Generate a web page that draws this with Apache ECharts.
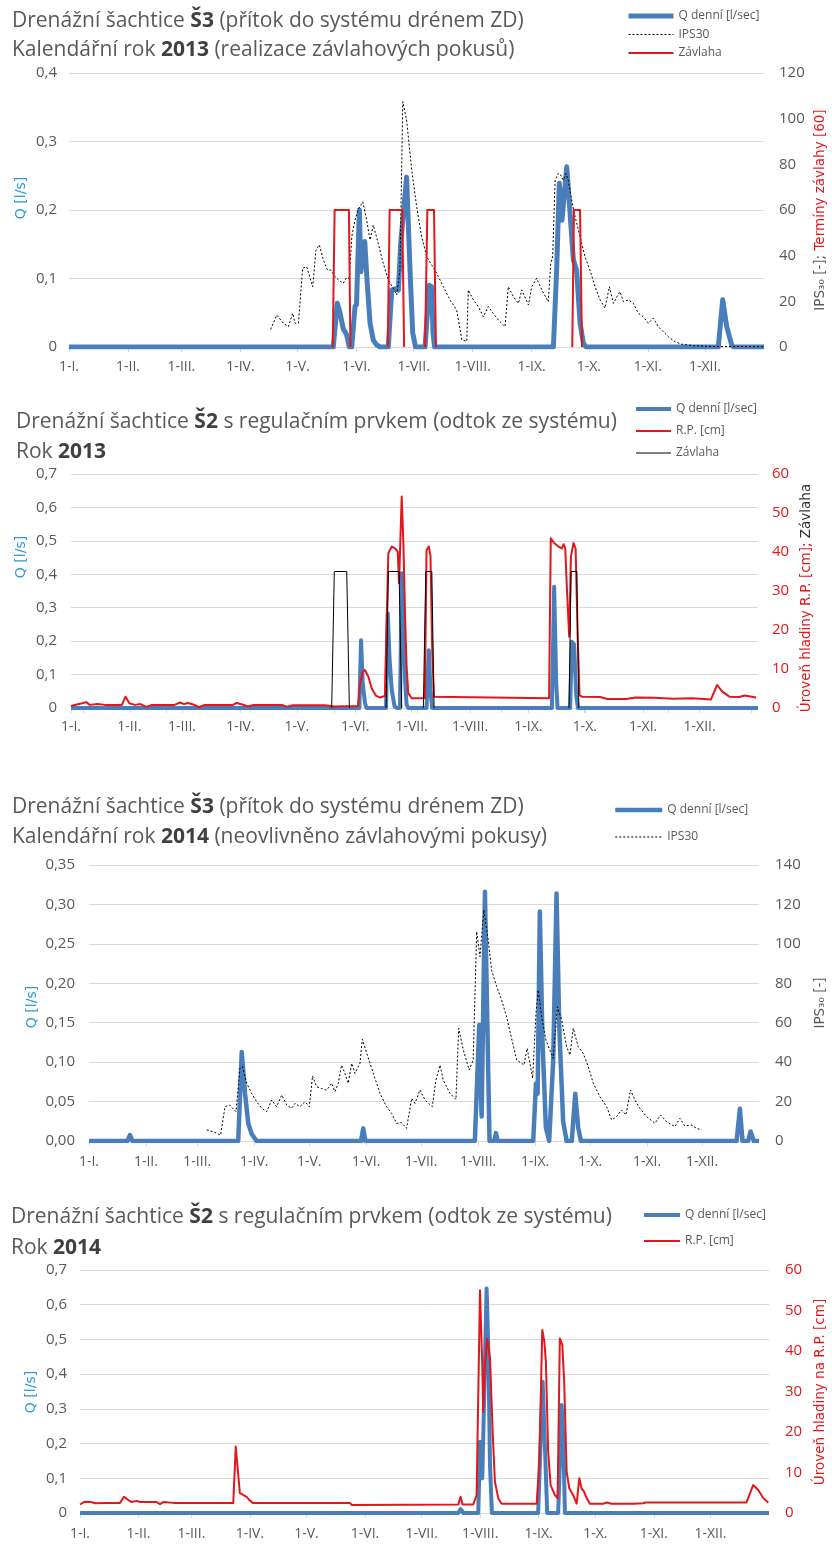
<!DOCTYPE html>
<html>
<head>
<meta charset="utf-8">
<script src="https://cdn.jsdelivr.net/npm/echarts/dist/echarts.min.js"></script>
<style>
  html, body { margin: 0; padding: 0; background: #fff; }
  #chart { width: 832px; height: 1546px; }
</style>
</head>
<body>
<div id="chart"></div>
<script>
// osa x: den v roce (0 = 1. ledna)
const monthStarts = [0, 31, 59, 90, 120, 151, 181, 212, 243, 273, 304, 334];
const monthLabels = ['1-I.', '1-II.', '1-III.', '1-IV.', '1-V.', '1-VI.', '1-VII.', '1-VIII.', '1-IX.', '1-X.', '1-XI.', '1-XII.'];
const s2Ticks2013 = [6.4, 50.8, 95.2, 139.6, 184, 228.4, 272.8, 317.2, 361.6];

// --- 2013, S3 ---
const q13s3 = [[0,0],[138.8,0],[140.9,0.064],[142.3,0.05],[144,0.027],[145.8,0.018],[147.2,0],[148.5,0],[150.2,0.059],[151,0.062],[152.5,0.2],[153.3,0.11],[154.3,0.135],[155.3,0.154],[156.7,0.09],[158.1,0.035],[159.8,0.01],[161.6,0.003],[163.4,0],[167.7,0],[169.5,0.083],[171.2,0.085],[173,0.083],[174.2,0.151],[177.3,0.248],[179.1,0.112],[180.5,0.021],[182,0],[187,0],[189.2,0.09],[190.4,0.088],[191.2,0.02],[192,0],[254.4,0],[256.1,0.112],[257.5,0.239],[258.9,0.185],[261.4,0.263],[262.8,0.21],[264,0.161],[264.9,0.127],[266.6,0.112],[268.4,0.035],[270.1,0.006],[271.5,0],[341,0],[343.3,0.069],[345.4,0.03],[348,0.003],[349,0],[365,0]];
const ips13 = [[105.9,7.7],[109.1,14],[112.6,10.4],[115.2,8.9],[117.5,14.8],[118.7,10.4],[120.5,10.4],[122.7,34.5],[124.8,35.2],[128,26.4],[129.7,42.5],[131.5,44.7],[133.6,38.1],[135.7,33.7],[137.5,33.7],[139.7,30.8],[141.5,29.4],[144,27.9],[145.8,30.4],[147.2,30],[148.5,48.3],[150.2,55.6],[152,60.4],[154.3,63.6],[156.3,55.6],[158.1,46.9],[159.8,53.4],[162.4,45.4],[165,36.7],[167.7,29.4],[170.3,25.7],[172.1,22.8],[173.8,33.7],[175.3,107.4],[177.3,99.4],[180,77.5],[182.6,61.4],[185.2,48.3],[187.9,39.5],[190.5,35.9],[193.1,32.3],[196.6,26.4],[200.1,20.6],[203.6,16.2],[206.3,3.1],[208.9,2.5],[209.7,25],[212.4,20.6],[215,17.7],[217.6,13.2],[220.2,17.7],[222.8,14.7],[225.5,11.8],[226.4,12.6],[229,8.9],[230.7,26.4],[233.4,22],[236,19.1],[237.8,25],[241.3,18.4],[243,26.4],[245.6,30.1],[248.3,25],[251.7,19.8],[253,36.7],[254,39.5],[255.3,73.1],[257,76.1],[258.2,75.4],[259.6,73.1],[261,76],[262.2,73],[264,64.4],[265.8,57],[268.4,48.3],[271,39.5],[273.6,33.7],[276.3,26.4],[278.9,20.6],[281.5,17],[283.8,26.4],[285.9,19.1],[287.7,22],[289.4,24.2],[291.2,19.8],[293.8,20.6],[296.4,19.1],[299,14.8],[301.6,13.2],[304.3,10.4],[306.9,12.6],[309.5,8.9],[312.1,6.7],[314.8,4.5],[318.3,2.3],[321.8,1.2],[327.9,0.6],[338.4,0.2],[348.9,0.2],[364.6,0.1]];
// zavlahy: kazda davka zvlast (mezi nimi mezera)
const zav13s3 = [
  [[138.5,0],[139.5,60],[147,60],[147.8,0]],
  [[167.4,0],[168.4,60],[175,60],[176,0]],
  [[187,0],[188.2,60],[191.7,60],[192.7,0]],
  [[264.3,0],[265.2,60],[268.4,60],[269.4,0]]
];

// --- 2013, S2 ---
const q13s2 = [[0,0],[153.2,0],[154.1,0.203],[155,0.074],[156.2,0.015],[157,0],[167.4,0],[168.3,0.283],[169.2,0.153],[170.4,0.054],[171.9,0.005],[173.1,0],[174.8,0],[175.7,0.403],[176.6,0.273],[177.5,0.084],[178.3,0.01],[179.2,0],[188.9,0],[190.1,0.173],[191,0.05],[191.9,0],[255.5,0],[256.7,0.363],[257.8,0.074],[258.5,0],[265.2,0],[266.1,0.198],[267.3,0.19],[268.4,0.04],[269.3,0],[365,0]];
const rp13 = [[0,0.5],[3,0.9],[6,1.2],[8,1.5],[10,0.8],[14,1],[18,0.8],[27,0.8],[29,2.9],[31,1.2],[34,0.8],[37,1],[40,0.3],[43,0.8],[55,0.8],[58,1.4],[60,1],[62,1.3],[65,0.9],[68,0.2],[71,0.8],[86,0.8],[88,1.3],[91,0.9],[94,0.4],[97,0.8],[112,0.8],[115,0.3],[118,0.7],[135,0.7],[140,0.4],[152.5,0.5],[153.6,6.3],[155,9.3],[156.2,9.7],[158,8],[159.8,5],[162.1,3.1],[164.2,2.7],[166.8,3.1],[167.6,20],[168.6,39.7],[170.4,41.4],[172.2,40.9],[173.6,40.1],[174.3,32],[175.7,54.2],[176.6,42.2],[177.5,23.4],[178.3,10.6],[179.2,3.8],[181,2.5],[188,2.5],[188.9,40.5],[190.1,41.4],[191,39],[191.9,14.9],[192.8,2.9],[203,2.8],[203.5,2.5],[254,2.5],[254.9,43.5],[256.7,42.3],[259,41.4],[260.8,40.9],[261.7,42],[262.6,40.9],[263.5,30.3],[264.7,18.3],[265.6,38.8],[267,42.3],[268.1,40.9],[269.2,18.3],[270.2,3.3],[271.4,2.9],[281,2.8],[285,2.3],[295,2.3],[300,2.7],[310,2.6],[320,2.4],[330,2.5],[340,2.2],[343.3,5.9],[346,4.2],[349.8,2.9],[355,2.8],[358,3.2],[364,2.7]];
const zav13s2 = [
  [[138.5,0],[139.9,35],[146.5,35],[147.9,0]],
  [[167.4,0],[168.6,35],[174.3,35],[175.7,0]],
  [[187.2,0],[188.5,35],[191.7,35],[192.9,0]],
  [[264.6,0],[265.7,35],[268.7,35],[269.8,0]]
];

// --- 2014, S3 ---
const q14s3 = [[0,0],[21,0],[22.3,0.0076],[23.6,0],[81.3,0],[83.2,0.113],[85,0.06],[86.8,0.022],[88.6,0.009],[91.3,0],[148.2,0],[149.4,0.016],[150.6,0],[210.2,0],[212.6,0.147],[213.9,0.031],[214.4,0.03],[215.7,0.316],[217,0.15],[218.2,0],[220.8,0],[221.7,0.01],[222.6,0],[242,0],[243.5,0.073],[244.4,0.06],[245.6,0.291],[247.1,0.124],[248.9,0.017],[250.7,0],[252.9,0.103],[254.7,0.314],[256.2,0.144],[258.3,0.025],[260.2,0],[263,0],[264.9,0.06],[266.5,0.017],[268,0],[352.8,0],[354.6,0.041],[356,0],[359.1,0],[360.4,0.012],[362.2,0],[365,0]];
const ips14 = [[64.1,5.6],[67.7,4.7],[71.7,3],[74.1,17.4],[76.5,18.3],[78.3,16.6],[80.1,14.9],[82.2,36.9],[83.7,37.7],[85.9,29.3],[88.6,24.2],[91.3,19.9],[94.1,16.6],[96.8,14.9],[99.5,20.8],[102.2,17.4],[105,23.3],[107.7,18.3],[110.4,16.6],[112.2,19.1],[114.9,17.4],[117.6,19.9],[120,17.4],[121.8,33],[124,27.5],[126.7,26.6],[129.5,25.8],[132.2,29.3],[134,25],[135.8,29.3],[137.6,38.5],[139.4,34.3],[141.2,29.3],[143.1,39.4],[144.9,34.3],[147.6,39.4],[148.9,51.6],[151.3,44.5],[154.9,34.3],[158.5,24.2],[162.1,17.4],[164.9,14],[167.6,8.9],[170.3,9.3],[173,6.4],[175.8,21.7],[177.6,19.1],[180.3,25.9],[183,20.8],[187,17.4],[189,30.9],[191.2,38.5],[193,30.9],[196.6,24.2],[199.9,21.1],[201.4,57.2],[203.9,46.2],[207.1,36],[209.3,41.1],[211.2,106.2],[213,93.5],[215.1,117.2],[217.5,102],[219.3,86.7],[222.1,78.3],[224.8,71.5],[227.5,63],[230.2,52.1],[233,41.1],[235.7,39.4],[236.9,38.5],[238.7,47],[240.2,39.4],[241.7,31.8],[243.5,64.8],[244.7,76.6],[246.6,63],[248.9,51.2],[252.9,41.9],[255.1,68.1],[257.5,61.4],[260.2,47.8],[262,43.6],[263.8,57.2],[266.5,47.8],[269.2,44.5],[272,37.7],[274.7,29.3],[278.3,22.5],[282,17.4],[284.7,10.7],[287.4,12.3],[290.1,15.7],[292.5,13.2],[295,25.9],[297.4,20.8],[300.1,16.6],[303.8,12.3],[308.3,9],[311.4,13.2],[314.7,9.8],[319.2,7.3],[321.9,11.5],[324.6,7.6],[328.3,8.1],[331,6.4],[333.7,5.6]];

// --- 2014, S2 ---
const q14s2 = [[0,0],[200.4,0],[201.6,0.0115],[203.1,0],[211,0],[211.9,0.205],[213.1,0.1],[214.1,0.33],[215.4,0.647],[216.3,0.474],[217.2,0.138],[218.2,0],[242.7,0],[244,0.205],[245.1,0.378],[246.3,0.19],[247.5,0],[253.3,0],[254.2,0.138],[255.1,0.311],[256,0.22],[256.9,0],[365,0]];
const rp14 = [[0,2.1],[2.6,2.8],[5.6,2.7],[8.3,2.4],[14.1,2.5],[21.2,2.5],[23.3,4],[25.6,3.2],[27.4,2.7],[30,3],[31.8,2.7],[40.6,2.7],[42.4,2.2],[44.1,2.7],[49.5,2.5],[81.2,2.5],[82.5,16.4],[84.7,4.9],[88.3,4],[89.7,3.2],[91.5,2.5],[143,2.5],[143.9,2],[200.4,2.1],[201.6,4],[202.7,2.1],[208.3,2.1],[210.1,4.4],[211.9,55],[213.1,36.5],[213.6,25],[214.5,36.5],[215.7,43.1],[217.2,38.2],[218.6,20.1],[219.8,7.7],[221.6,3.6],[223.4,2.3],[241.9,2.3],[243.3,11.9],[244.9,45.2],[246,42.3],[246.8,37.4],[248,15.1],[249.3,6.9],[251.6,4.4],[253,3.7],[254.2,43.1],[255.5,41.5],[256.5,32.4],[257.8,10.2],[259.2,6.1],[261.3,4.4],[263.1,2.3],[264.5,8.6],[265.7,6.1],[267,5.3],[268.4,3.7],[270.1,2.3],[277.2,2.3],[279,2.6],[281.6,2.3],[290.4,2.3],[291.3,2.6],[293.1,2.3],[298.4,2.4],[299.5,2.6],[353.1,2.6],[356.6,6.9],[359.3,5.7],[361.9,3.7],[364.6,2.6]];

const FONT = '"Open Sans", "DejaVu Sans", sans-serif';
const NAME_FONT = '"DejaVu Sans", sans-serif';
const GREY = '#595959';
const GRID_LINE = '#d9d9d9';
const BLUE = '#4a7ebb';
const RED = '#e3161b';
const Q_BLUE = '#2e9bd6';

// davky zavlahy spojit s prazdnym bodem mezi nimi, aby se nekreslila nula
function withGaps(groups) {
  const out = [];
  groups.forEach((g, i) => {
    if (i > 0) out.push('-');
    g.forEach(p => out.push(p));
  });
  return out;
}

const grids = [
  { left: 69, top: 73, width: 695, height: 274 },
  { left: 71, top: 474, width: 687, height: 234 },
  { left: 89, top: 865, width: 670, height: 276 },
  { left: 80, top: 1270, width: 689, height: 243 }
];

function xAxis(gi, margin) {
  return {
    type: 'value', gridIndex: gi, min: 0, max: 365,
    axisLine: { show: true, lineStyle: { color: GRID_LINE } },
    axisTick: { show: true, customValues: monthStarts, length: 5, lineStyle: { color: GRID_LINE } },
    axisLabel: {
      customValues: monthStarts,
      formatter: v => monthLabels[monthStarts.indexOf(v)] || '',
      color: GREY, fontSize: 14, fontFamily: FONT, margin: margin
    },
    splitLine: { show: false }
  };
}

function qFmt(dec) {
  return v => {
    if (dec === 2) return v.toFixed(2).replace('.', ',');
    if (Math.abs(v) < 1e-9) return '0';
    return v.toFixed(1).replace('.', ',');
  };
}

function yLeft(gi, max, interval, dec, margin) {
  return {
    type: 'value', gridIndex: gi, position: 'left', min: 0, max: max, interval: interval,
    axisLine: { show: false }, axisTick: { show: false },
    splitLine: { show: true, lineStyle: { color: GRID_LINE } },
    axisLabel: { formatter: qFmt(dec), color: GREY, fontSize: 15, fontFamily: FONT, margin: margin }
  };
}

function yRight(gi, max, interval, color, margin) {
  return {
    type: 'value', gridIndex: gi, position: 'right', min: 0, max: max, interval: interval,
    axisLine: { show: false }, axisTick: { show: false }, splitLine: { show: false },
    axisLabel: { color: color, fontSize: 15, fontFamily: FONT, margin: margin }
  };
}

function line(name, xi, yi, data, color, width, extra) {
  return Object.assign({
    name: name, type: 'line', xAxisIndex: xi, yAxisIndex: yi, data: data,
    symbol: 'none', connectNulls: false, silent: true,
    lineStyle: { color: color, width: width, join: 'round' },
    itemStyle: { color: color }
  }, extra || {});
}

// legenda: jen cara bez znacky, tloustka podle serie
function legend(left, top, gap, iw, names) {
  return {
    left: left, top: top, orient: 'vertical', padding: 0,
    itemWidth: iw, itemHeight: 14, itemGap: gap, selectedMode: false,
    itemStyle: { opacity: 0, borderWidth: 0 },
    lineStyle: { width: 'inherit' },
    data: names,
    textStyle: { color: GREY, fontSize: 12, fontFamily: FONT }
  };
}

function titleText(x, y, parts) {
  return {
    type: 'text', x: x, y: y,
    style: {
      text: parts, verticalAlign: 'middle',
      rich: {
        n: { fontSize: 21, fontFamily: FONT, fill: GREY },
        b: { fontSize: 21, fontFamily: FONT, fill: '#404040', fontWeight: 'bold' }
      }
    }
  };
}

function axisName(x, y, text, rich) {
  return {
    type: 'text', x: x, y: y, rotation: Math.PI / 2,
    style: { text: text, align: 'center', verticalAlign: 'middle', rich: rich }
  };
}

const nameRich = {
  q: { fontSize: 14, fontFamily: NAME_FONT, fill: Q_BLUE },
  g: { fontSize: 13.5, fontFamily: NAME_FONT, fill: GREY },
  r: { fontSize: 13.5, fontFamily: NAME_FONT, fill: RED },
  k: { fontSize: 13.5, fontFamily: NAME_FONT, fill: '#333' }
};

const chart = echarts.init(document.getElementById('chart'));
chart.setOption({
  animation: false,
  backgroundColor: '#fff',
  grid: grids,
  xAxis: [
    xAxis(0, 13), xAxis(1, 12), xAxis(2, 14), xAxis(3, 14),
    {
      type: 'value', gridIndex: 1, min: 0, max: 365, position: 'bottom', offset: 37,
      axisLine: { show: false },
      axisTick: { show: true, customValues: s2Ticks2013, length: 5, lineStyle: { color: GRID_LINE } },
      axisLabel: { show: false }, splitLine: { show: false }
    }
  ],
  yAxis: [
    yLeft(0, 0.4, 0.1, 1, 12), yRight(0, 120, 20, GREY, 15),
    yLeft(1, 0.7, 0.1, 1, 14), yRight(1, 60, 10, RED, 14),
    yLeft(2, 0.35, 0.05, 2, 14), yRight(2, 140, 20, GREY, 16),
    yLeft(3, 0.7, 0.1, 1, 13), yRight(3, 60, 10, RED, 16)
  ],
  legend: [
    legend(626, 10, 6.5, 45, ['Q denní [l/sec]', 'IPS30', 'Závlaha']),
    legend(634, 403, 10, 35, ['Q denní [l/sec] ', 'R.P. [cm]', 'Závlaha ']),
    legend(613, 804, 15, 47, ['Q denní [l/sec]  ', 'IPS30 ']),
    legend(642, 1209, 14, 36, ['Q denní [l/sec]   ', 'R.P. [cm] '])
  ],
  series: [
    line('Q denní [l/sec]', 0, 0, q13s3, BLUE, 5, { z: 2 }),
    line('IPS30', 0, 1, ips13, '#000', 1, { z: 3, lineStyle: { color: '#000', width: 1, type: [2, 2] } }),
    line('Závlaha', 0, 1, withGaps(zav13s3), RED, 2, { z: 4 }),

    line('Q denní [l/sec] ', 1, 2, q13s2, BLUE, 4, { z: 2 }),
    line('R.P. [cm]', 1, 3, rp13, RED, 2, { z: 3 }),
    line('Závlaha ', 1, 3, withGaps(zav13s2), '#000', 1, { z: 4 }),

    line('Q denní [l/sec]  ', 2, 4, q14s3, BLUE, 4.5, { z: 2 }),
    line('IPS30 ', 2, 5, ips14, '#000', 1, { z: 3, lineStyle: { color: '#000', width: 1, type: [2, 2] } }),

    line('Q denní [l/sec]   ', 3, 6, q14s2, BLUE, 4, { z: 2 }),
    line('R.P. [cm] ', 3, 7, rp14, RED, 2, { z: 3 })
  ],
  graphic: [
    titleText(12, 21, '{n|Drenážní šachtice }{b|Š3}{n| (přítok do systému drénem ZD)}'),
    titleText(12, 50, '{n|Kalendářní rok }{b|2013}{n| (realizace závlahových pokusů)}'),
    titleText(16, 422, '{n|Drenážní šachtice }{b|Š2}{n| s regulačním prvkem (odtok ze systému)}'),
    titleText(16, 452, '{n|Rok }{b|2013}'),
    titleText(12, 807, '{n|Drenážní šachtice }{b|Š3}{n| (přítok do systému drénem ZD)}'),
    titleText(12, 837, '{n|Kalendářní rok }{b|2014}{n| (neovlivněno závlahovými pokusy)}'),
    titleText(11, 1217, '{n|Drenážní šachtice }{b|Š2}{n| s regulačním prvkem (odtok ze systému)}'),
    titleText(11, 1248, '{n|Rok }{b|2014}'),

    axisName(21, 198, '{q|Q [l/s]}', nameRich),
    axisName(820, 210, '{g|IPS₃₀ [-]; }{r|Termíny závlahy [60]}', nameRich),
    axisName(21, 557, '{q|Q [l/s]}', nameRich),
    axisName(806, 598, '{r|Úroveň hladiny R.P. [cm]; }{k|Závlaha}', nameRich),
    axisName(32, 1007, '{q|Q [l/s]}', nameRich),
    axisName(820, 1003, '{g|IPS₃₀ [-]}', nameRich),
    axisName(31, 1392, '{q|Q [l/s]}', nameRich),
    axisName(820, 1392, '{r|Úroveň hladiny na R.P. [cm]}', nameRich)
  ]
});
</script>
</body>
</html>
